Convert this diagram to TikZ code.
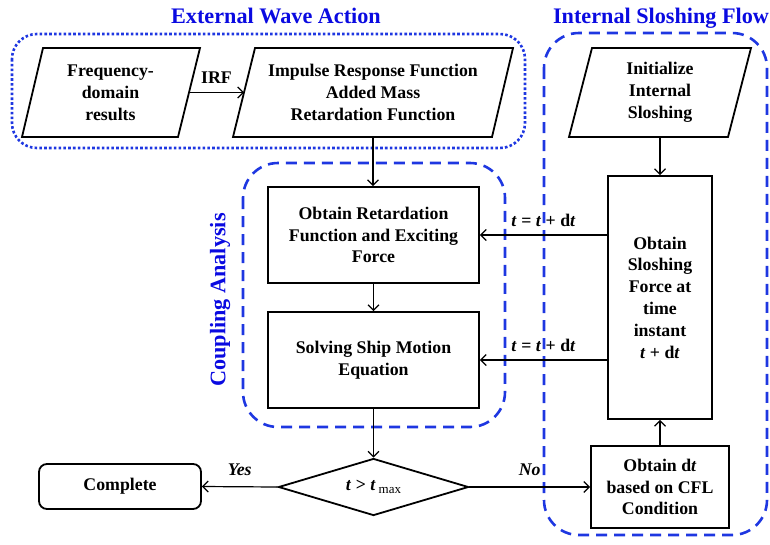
\documentclass[tikz,border=0pt]{standalone}
\usepackage{fontspec}
\setmainfont{Liberation Serif}
\usetikzlibrary{arrows.meta,shapes.geometric}
\definecolor{lblue}{RGB}{30,55,225}
\definecolor{tblue}{RGB}{10,10,225}
\newcommand\boxfont{\fontsize{17.8}{21.8}\selectfont\bfseries}
\begin{document}
\begin{tikzpicture}[x=1pt,y=-1pt,
  box/.style={draw,line width=1.8pt,inner sep=0pt,align=center,font=\boxfont},
  plain/.style={inner sep=0pt,align=center,font=\boxfont},
  para/.style={line width=1.8pt,line join=miter},
  arr/.style={line width=1.2pt,-{Straight Barb[length=5.5pt,width=11pt,line width=1.2pt]}},
  grp/.style={draw=lblue,line width=2.6pt},
  title/.style={text=tblue,inner sep=0pt,font=\fontsize{22.2}{24}\selectfont\bfseries}]
\useasboundingbox (0,0) rectangle (770,544);

% group frames
\draw[grp,rounded corners=25pt,dash pattern=on 2.6pt off 2.2pt] (12,34) rectangle (525,148);
\draw[grp,rounded corners=35pt,dash pattern=on 11pt off 7pt] (243,163) rectangle (505,427);
\draw[grp,rounded corners=35pt,dash pattern=on 11pt off 7pt] (544,33) rectangle (767,535);

% titles
\node[title,anchor=base] (tExt) at (276,23) {External Wave Action};
\node[title,anchor=base] (tInt) at (661,23) {Internal Sloshing Flow};
\node[title,rotate=90] (tCoup) at (220,300) {Coupling Analysis};

% parallelograms
\draw[para] (43,48) -- (200,48) -- (178,137) -- (22,137) -- cycle;
\draw[para] (255,48) -- (513,48) -- (492,137) -- (233,137) -- cycle;
\draw[para] (592,48) -- (751,48) -- (728,137) -- (569,137) -- cycle;
\node[plain] (p1) at (110.5,92.5) {Frequency-\\domain\\results};
\node[plain] (p2) at (373,92.5) {Impulse Response Function\\Added Mass\\Retardation Function};
\node[plain] (p3) at (660,92.5) {Initialize\\Internal\\Sloshing};
\coordinate (p1e) at (189,92.5);
\coordinate (p2w) at (244,92.5);
\coordinate (p2s) at (373,137);
\coordinate (p3s) at (660,137);

% boxes
\node[box,minimum width=211pt,minimum height=96pt] (b1) at (373.5,235) {Obtain Retardation\\Function and Exciting\\Force};
\node[box,minimum width=211pt,minimum height=96pt] (b2) at (373.5,360) {Solving Ship Motion\\Equation};
\node[box,minimum width=104pt,minimum height=243pt] (tall) at (660,297.5) {Obtain\\Sloshing\\Force at\\time\\instant\\\textit{t} + d\textit{t}};
\node[box,minimum width=138pt,minimum height=82pt] (dtb) at (660,487) {Obtain d\textit{t}\\based on CFL\\Condition};
\node[box,rounded corners=8pt,minimum width=162pt,minimum height=45pt] (comp) at (120,486.5) {Complete};
\node[draw,diamond,line width=1.8pt,inner sep=0pt,aspect=3.33,minimum width=190pt,minimum height=57pt] (dia) at (373.5,487)
  {\fontsize{17.8}{20}\selectfont\textbf{\textit{t}} \textbf{>} \textbf{\textit{t}}\,\raisebox{-3pt}{\fontsize{13}{13}\selectfont max}};

% connectors
\draw[arr] (p1e) -- node[above=5pt,font=\boxfont] {IRF} (p2w);
\draw[arr] (p2s) -- (p2s |- b1.north);
\draw[arr] (b1) -- (b2);
\draw[arr] (b2) -- (dia);
\draw[arr] (p3s) -- (tall);
\draw[arr] (tall.west |- b1.east) -- node[above=4pt,font=\boxfont] {\textit{t} = \textit{t} + d\textit{t}} (b1.east);
\draw[arr] (tall.west |- b2.east) -- node[above=4pt,font=\boxfont] {\textit{t} = \textit{t} + d\textit{t}} (b2.east);
\draw[arr] (dia.west) -- node[above=7pt,font=\boxfont\itshape] {Yes} (comp.east);
\draw[arr] (dia.east) -- node[above=7pt,font=\boxfont\itshape] {No} (dtb.west);
\draw[arr] (dtb) -- (tall);
\end{tikzpicture}
\end{document}
